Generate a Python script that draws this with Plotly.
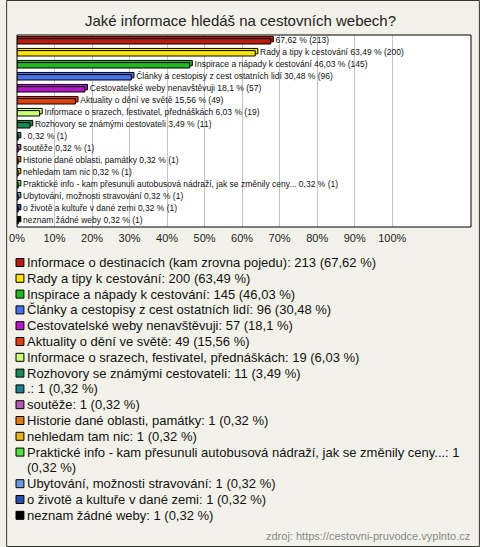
import textwrap
import plotly.graph_objects as go

# ---------------- data ----------------
categories = [
    "Informace o destinacích (kam zrovna pojedu)",
    "Rady a tipy k cestování",
    "Inspirace a nápady k cestování",
    "Články a cestopisy z cest ostatních lidí",
    "Cestovatelské weby nenavštěvuji",
    "Aktuality o dění ve světě",
    "Informace o srazech, festivatel, přednáškách",
    "Rozhovory se známými cestovateli",
    ".",
    "soutěže",
    "Historie dané oblasti, památky",
    "nehledam tam nic",
    "Praktické info - kam přesunuli autobusová nádraží, jak se změnily ceny...",
    "Ubytování, možnosti stravování",
    "o životě a kultuře v dané zemi",
    "neznam žádné weby",
]
counts = [213, 200, 145, 96, 57, 49, 19, 11, 1, 1, 1, 1, 1, 1, 1, 1]
percents = [67.62, 63.49, 46.03, 30.48, 18.1, 15.56, 6.03, 3.49,
            0.32, 0.32, 0.32, 0.32, 0.32, 0.32, 0.32, 0.32]
show_name_on_bar = [False] + [True] * 15
colors = [
    "#bb1a10", "#ffe500", "#1fb81f", "#4a72ee", "#b416c8", "#e0420e",
    "#ccff77", "#178a55", "#1e7f8f", "#b25ab5", "#e07b12", "#e8b414",
    "#55e044", "#6a9ae0", "#2a4fb0", "#000000",
]
tick_values = [0, 10, 20, 30, 40, 50, 60, 70, 80, 90, 100]
tick_labels = [f"{v}%" for v in tick_values]
title_text = "Jaké informace hledáš na cestovních webech?"
source_text = "zdroj: https://cestovni-pruvodce.vyplnto.cz"

# ---------------- style ----------------
FONT = "Liberation Sans, Arial, sans-serif"
BG = "#f3f2ea"
W, H = 480, 547
L, R, T, B = 11, 471, 35, 227


def px_x(x):
    return (x - L) / (R - L)


def px_y(y):
    return (B - y) / (B - T)


def fmt_pct(p):
    s = f"{p:.2f}".rstrip("0").rstrip(".")
    return s.replace(".", ",")


idx = list(range(len(categories)))
DEPTH = 0.7  # 3D bar depth (in x units)

fig = go.Figure()
# back (top face) bars
fig.add_trace(go.Bar(
    y=idx, x=[p + DEPTH for p in percents], orientation="h",
    marker=dict(color=colors, line=dict(color="#000", width=1)),
    width=0.45, offset=-0.38, hoverinfo="skip", showlegend=False,
))
# front bars
fig.add_trace(go.Bar(
    y=idx, x=percents, orientation="h",
    marker=dict(color=colors, line=dict(color="#000", width=1)),
    width=0.45, offset=-0.2, hoverinfo="skip", showlegend=False,
))
# bar labels
bar_texts = []
for name, c, p, show in zip(categories, counts, percents, show_name_on_bar):
    t = f"{fmt_pct(p)} % ({c})"
    bar_texts.append(f"{name} {t}" if show else t)
fig.add_trace(go.Scatter(
    y=idx, x=[p + DEPTH + 0.6 for p in percents], mode="text",
    text=bar_texts, textposition="middle right",
    textfont=dict(family=FONT, size=8.5, color="#111"),
    cliponaxis=False, hoverinfo="skip", showlegend=False,
))

shapes = []
annotations = []

# outer frame
shapes.append(dict(type="rect", xref="paper", yref="paper",
                   x0=px_x(0.5), x1=px_x(479.5), y0=px_y(546.5), y1=px_y(0.5),
                   line=dict(color="#333", width=1), layer="below"))
# plot frame
shapes.append(dict(type="rect", xref="paper", yref="paper",
                   x0=0, x1=1, y0=0, y1=1,
                   line=dict(color="#000", width=1), layer="above"))

# title
annotations.append(dict(text=title_text, xref="paper", yref="paper",
                        x=px_x(237), y=px_y(20), xanchor="center", yanchor="middle",
                        showarrow=False, font=dict(family=FONT, size=15, color="#222")))

# legend
line_no = 0
y0 = 262.5
step = 15.8
for name, c, p, col in zip(categories, counts, percents, colors):
    full = f"{name}: {c} ({fmt_pct(p)} %)"
    lines = textwrap.wrap(full, width=76)
    cy = y0 + step * line_no
    shapes.append(dict(type="rect", xref="paper", yref="paper",
                       x0=px_x(10), x1=px_x(18), y0=px_y(cy + 4), y1=px_y(cy - 4),
                       fillcolor=col, line=dict(color="#000", width=1)))
    for ln in lines:
        cy = y0 + step * line_no
        annotations.append(dict(text=ln, xref="paper", yref="paper",
                                x=px_x(19), y=px_y(cy), xanchor="left", yanchor="middle",
                                showarrow=False,
                                font=dict(family=FONT, size=13, color="#111")))
        line_no += 1

# source
annotations.append(dict(text=source_text, xref="paper", yref="paper",
                        x=px_x(472), y=px_y(536), xanchor="right", yanchor="middle",
                        showarrow=False, font=dict(family=FONT, size=11, color="#888")))

fig.update_layout(
    width=W, height=H,
    margin=dict(l=L, r=W - R, t=T, b=H - B, pad=0),
    paper_bgcolor=BG, plot_bgcolor="#ffffff",
    barmode="overlay",
    showlegend=False,
    xaxis=dict(range=[0, 121], tickvals=tick_values, ticktext=tick_labels,
               showgrid=True, gridcolor="#c4c4c4", gridwidth=1, zeroline=False,
               showline=False, ticks="", fixedrange=True, ticklabelstandoff=3,
               tickfont=dict(family=FONT, size=11, color="#222")),
    yaxis=dict(range=[15.5, -0.5], showticklabels=False, showgrid=False,
               zeroline=False, showline=False, ticks="", fixedrange=True),
    shapes=shapes,
    annotations=annotations,
)

fig.write_html(
    "out.html",
    config={"displayModeBar": False},
    post_script="document.body.style.margin='0';document.body.style.overflow='hidden';",
)
